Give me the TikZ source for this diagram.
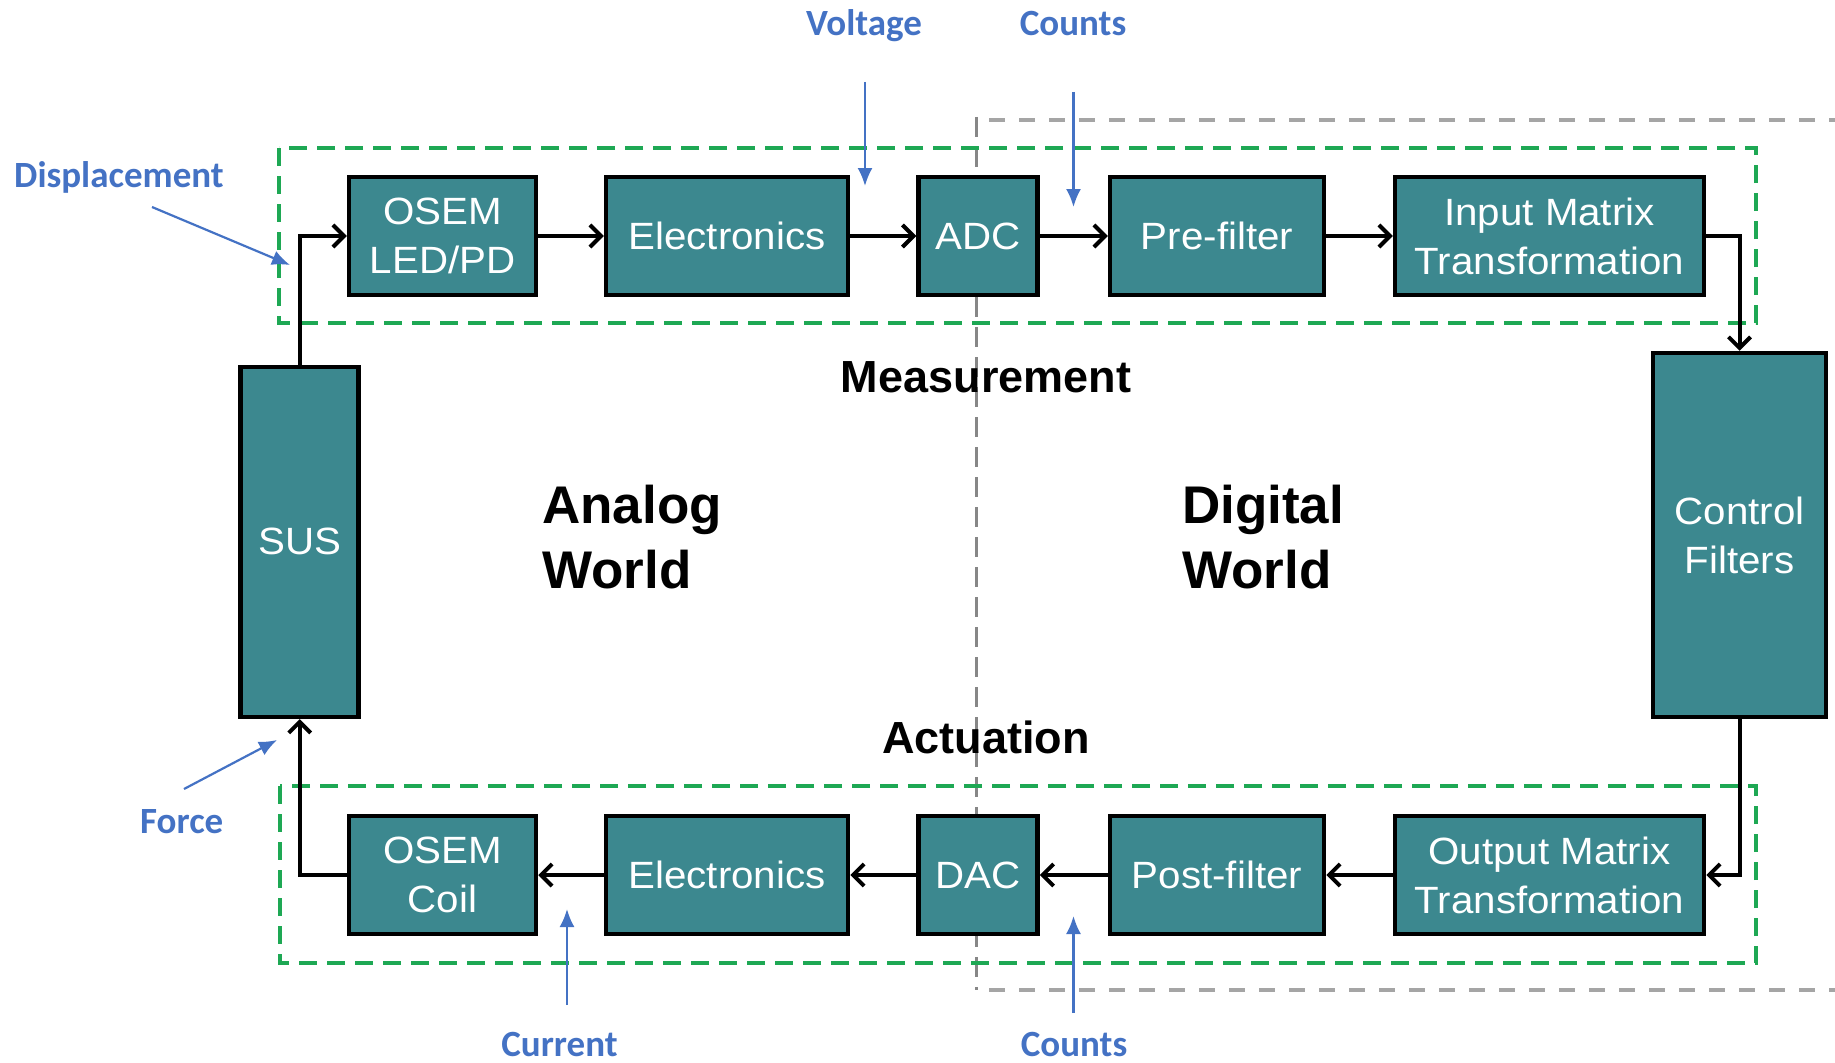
\documentclass[tikz,border=0pt]{standalone}
\usepackage{fontspec}
\setmainfont{Liberation Sans}
\newfontfamily\boxfont[FakeStretch=1.06]{Liberation Sans}
\newfontfamily\notefont{Carlito}
\usetikzlibrary{arrows.meta}

\definecolor{blockfill}{RGB}{60,136,143}
\definecolor{notecol}{RGB}{68,114,196}
\definecolor{grpgreen}{RGB}{30,168,84}
\definecolor{zonegray}{RGB}{165,165,165}
\definecolor{zoneline}{RGB}{135,135,135}

\begin{document}
\begin{tikzpicture}[x=1pt,y=-1pt,
  blk/.style={draw=black, line width=4.5pt, fill=blockfill, text=white,
    font={\boxfont\fontsize{38}{49}\selectfont}, align=center, inner sep=0pt},
  rowbox/.style={blk, minimum height=118pt},
  conn/.style={line width=4pt, -{Straight Barb[length=11pt,width=22pt]}},
  note/.style={text=notecol, font={\notefont\bfseries\fontsize{37}{44}\selectfont}, inner sep=0pt},
  notearrow/.style={draw=notecol, line width=2.2pt, -{Latex[length=18pt,width=15pt]}},
  title/.style={font={\bfseries\fontsize{45}{54}\selectfont}, inner sep=0pt},
  world/.style={font={\bfseries\fontsize{53}{64.6}\selectfont}, inner sep=0pt, align=left, anchor=north west},
  grpbox/.style={draw=grpgreen, line width=4pt, dash pattern=on 18pt off 10pt},
  zone/.style={draw=zonegray, line width=4.5pt, dash pattern=on 16pt off 14pt},
  zonesplit/.style={draw=zoneline, line width=3pt, dash pattern=on 20pt off 10pt}]

\useasboundingbox (0,0) rectangle (1835,1062);

% analog / digital split
\draw[zone] (989,120) -- (1835,120);
\draw[zone] (989,990) -- (1835,990);
\draw[zonesplit] (976,117) -- (976,990);

% measurement and actuation groups
\draw[grpbox] (279,148) rectangle (1756,323);
\draw[grpbox] (280,786) rectangle (1756,963);

% measurement chain
\node[rowbox, minimum width=187pt] (osemA) at (442.5,236) {OSEM\\LED/PD};
\node[rowbox, minimum width=242pt] (elecA) at (727,236) {Electronics};
\node[rowbox, minimum width=119pt] (adc) at (978,236) {ADC};
\node[rowbox, minimum width=214pt] (pre) at (1217,236) {Pre-filter};
\node[rowbox, minimum width=309pt] (inmat) at (1549.5,236) {Input Matrix\\Transformation};

% actuation chain
\node[rowbox, minimum width=187pt] (osemB) at (442.5,875) {OSEM\\Coil};
\node[rowbox, minimum width=242pt] (elecB) at (727,875) {Electronics};
\node[rowbox, minimum width=119pt] (dac) at (978,875) {DAC};
\node[rowbox, minimum width=214pt] (post) at (1217,875) {Post-filter};
\node[rowbox, minimum width=309pt] (outmat) at (1549.5,875) {Output Matrix\\Transformation};

% plant and controller
\node[blk, minimum width=118pt, minimum height=350pt] (sus) at (299.7,541.8) {SUS};
\node[blk, minimum width=173pt, minimum height=364pt] (ctrl) at (1739.5,535) {Control\\Filters};

% signal flow
\draw[conn] (sus.north) |- (osemA.west);
\draw[conn] (osemA) -- (elecA);
\draw[conn] (elecA) -- (adc);
\draw[conn] (adc) -- (pre);
\draw[conn] (pre) -- (inmat);
\draw[conn] (inmat.east) -| (ctrl.north);
\draw[conn] (ctrl.south) |- (outmat.east);
\draw[conn] (outmat) -- (post);
\draw[conn] (post) -- (dac);
\draw[conn] (dac) -- (elecB);
\draw[conn] (elecB) -- (osemB);
\draw[conn] (osemB.west) -| (sus.south);

% region titles
\node[title, anchor=base] (meas) at (986,392) {Measurement};
\node[title, anchor=base] (act) at (986,753) {Actuation};
\node[world] (analog) at (542,485) {Analog\\World};
\node[world] (digital) at (1182,485) {Digital\\World};

% signal quantities
\node[note, anchor=base west] (ldisp) at (14,187) {Displacement};
\coordinate (dispS) at (152,207); \coordinate (dispE) at (290,265);
\draw[notearrow] (dispS) -- (dispE);

\node[note, anchor=base] (lvolt) at (864,36) {Voltage};
\coordinate (voltS) at (865,82); \coordinate (voltE) at (865,186);
\draw[notearrow] (voltS) -- (voltE);

\node[note, anchor=base] (lcntA) at (1073,36) {Counts};
\coordinate (cntAS) at (1073.5,92); \coordinate (cntAE) at (1073.5,207);
\draw[notearrow] (cntAS) -- (cntAE);

\node[note, anchor=base west] (lforce) at (140,833) {Force};
\coordinate (forceS) at (184,789); \coordinate (forceE) at (277,740);
\draw[notearrow] (forceS) -- (forceE);

\node[note, anchor=base] (lcur) at (559.5,1056) {Current};
\coordinate (curS) at (567,1005); \coordinate (curE) at (567,909);
\draw[notearrow] (curS) -- (curE);

\node[note, anchor=base] (lcntB) at (1074,1056) {Counts};
\coordinate (cntBS) at (1073.5,1013); \coordinate (cntBE) at (1073.5,916);
\draw[notearrow] (cntBS) -- (cntBE);

\end{tikzpicture}
\end{document}
